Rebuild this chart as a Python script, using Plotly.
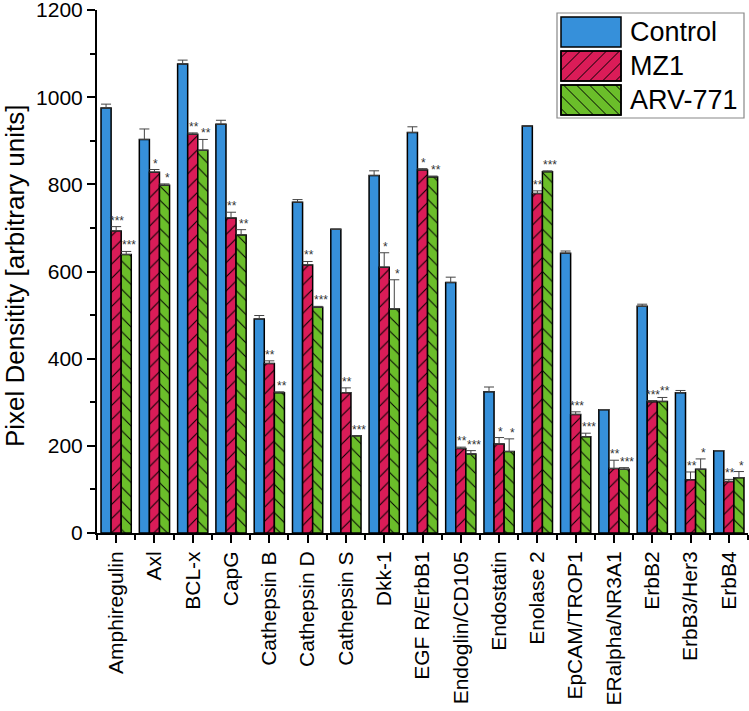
import numpy as np
import plotly.graph_objects as go

categories = ["Amphiregulin", "Axl", "BCL-x", "CapG", "Cathepsin B", "Cathepsin D",
              "Cathepsin S", "Dkk-1", "EGF R/ErbB1", "Endoglin/CD105", "Endostatin",
              "Enolase 2", "EpCAM/TROP1", "ERalpha/NR3A1", "ErbB2", "ErbB3/Her3", "ErbB4"]
control = [975, 903, 1076, 938, 491, 759, 697, 820, 919, 575, 324, 934, 642, 283, 520, 322, 189]
control_err = [9, 24, 9, 9, 8, 6, 0, 11, 13, 12, 11, 0, 5, 0, 5, 5, 0]
mz1 = [693, 828, 915, 723, 389, 615, 322, 610, 833, 194, 204, 779, 272, 148, 301, 122, 118]
mz1_err = [10, 6, 3, 13, 6, 8, 11, 33, 3, 3, 15, 6, 6, 19, 3, 18, 5]
arv = [639, 798, 878, 684, 322, 518, 223, 514, 817, 181, 187, 829, 221, 146, 302, 146, 127]
arv_err = [7, 3, 25, 12, 2, 2, 0, 67, 2, 8, 29, 2, 8, 4, 9, 24, 14]
mz1_sig = ["***", "*", "**", "**", "**", "**", "**", "*", "*", "**", "*", "**", "***", "**", "***", "**", "**"]
arv_sig = ["***", "*", "**", "**", "**", "***", "***", "*", "**", "***", "*", "***", "***", "***", "**", "*", "*"]
series_names = ["Control", "MZ1", "ARV-771"]
y_ticks = [0, 200, 400, 600, 800, 1000, 1200]

BLUE = "#3690DA"
RED = "#DA1C58"
GREEN = "#6BBE2A"
FONT = "Arial, Liberation Sans, sans-serif"

W, H = 749, 711
ML, MR, MT, MB = 97, 1, 10, 178
PW, PH = W - ML - MR, H - MT - MB

x = np.arange(len(categories))
BARGAP = 0.21
bw = (1 - BARGAP) / 3

fig = go.Figure()
specs = [
    (series_names[0], control, control_err, BLUE, ""),
    (series_names[1], mz1, mz1_err, RED, "/"),
    (series_names[2], arv, arv_err, GREEN, "\\"),
]
for name, vals, errs, col, pat in specs:
    marker = dict(color=col, line=dict(color="black", width=1.5))
    if pat:
        marker["pattern"] = dict(shape=pat, fgcolor="black", bgcolor=col,
                                 size=10, solidity=0.1, fillmode="replace")
    fig.add_trace(go.Bar(
        x=x, y=vals, name=name, marker=marker,
        error_y=dict(type="data", array=errs, arrayminus=[0] * len(errs),
                     symmetric=False, color="#444444", thickness=1, width=5),
        showlegend=False,
    ))

# significance stars
for vals, errs, sig, off, xs in [(mz1, mz1_err, mz1_sig, 0.0, 1), (arv, arv_err, arv_sig, bw, 3)]:
    for i, (v, e, s) in enumerate(zip(vals, errs, sig)):
        fig.add_annotation(x=i + off, y=v + e, text=s, showarrow=False,
                           xanchor="center", yanchor="bottom", xshift=xs, yshift=-3,
                           font=dict(family=FONT, size=12, color="#333333"))

# custom legend (pixel -> paper)
def px(xp):
    return (xp - ML) / PW

def py(yp):
    return (MT + PH - yp) / PH

fig.add_shape(type="rect", xref="paper", yref="paper",
              x0=px(557), x1=px(744), y0=py(118), y1=py(13),
              line=dict(color="#888888", width=1.2), fillcolor="white")

def hatch_path(x0, y0, x1, y1, direction, step):
    segs = []
    w, h = x1 - x0, y1 - y0
    for c in np.arange(step / 2, w + h, step):
        if direction == "/":
            xa = x0 + max(0, c - h); ya = y0 + min(c, h)
            xb = x0 + min(c, w); yb = y0 + max(0, c - w)
        else:
            xa = x0 + max(0, c - h); ya = y1 - min(c, h)
            xb = x0 + min(c, w); yb = y1 - max(0, c - w)
        segs.append(f"M{px(xa)},{py(ya)} L{px(xb)},{py(yb)}")
    return " ".join(segs)

sw = [(17, 47), (51, 81), (85, 115)]
for (name, _, _, col, pat), (ya, yb) in zip(specs, sw):
    fig.add_shape(type="rect", xref="paper", yref="paper",
                  x0=px(561), x1=px(621), y0=py(yb), y1=py(ya),
                  line=dict(color="black", width=1.5), fillcolor=col)
    if pat:
        fig.add_shape(type="path", xref="paper", yref="paper",
                      path=hatch_path(561, ya, 621, yb, pat, 13),
                      line=dict(color="black", width=1))
        fig.add_shape(type="rect", xref="paper", yref="paper",
                      x0=px(561), x1=px(621), y0=py(yb), y1=py(ya),
                      line=dict(color="black", width=1.5))
    fig.add_annotation(xref="paper", yref="paper", x=px(628), y=py((ya + yb) / 2),
                       text=name, showarrow=False, xanchor="left", yanchor="middle",
                       font=dict(family=FONT, size=27, color="black"))

# y-axis title
fig.add_annotation(xref="paper", yref="paper", x=px(15), y=py(276),
                   text="Pixel Densitity [arbitrary units]",
                   textangle=-90, showarrow=False, xanchor="center", yanchor="middle",
                   font=dict(family=FONT, size=26, color="black"))

fig.update_layout(
    width=W, height=H, margin=dict(l=ML, r=MR, t=MT, b=MB),
    barmode="group", bargap=BARGAP, bargroupgap=0,
    plot_bgcolor="white", paper_bgcolor="white",
    font=dict(family=FONT, color="black"),
    showlegend=False,
)
fig.update_xaxes(
    range=[-0.5, len(categories) - 0.5], tickmode="array", tickvals=x, ticktext=categories,
    tickangle=-90, tickfont=dict(size=21, family=FONT, color="black"),
    ticks="outside", ticklen=8, tickwidth=1.5, tickcolor="black",
    minor=dict(tickmode="array", tickvals=list(np.arange(len(categories) + 1) - 0.5),
               ticks="outside", ticklen=5, tickwidth=1.5, tickcolor="black"),
    showline=True, linecolor="black", linewidth=2, showgrid=False, zeroline=False,
    automargin=False, ticklabeloverflow="allow",
)
fig.update_yaxes(
    range=[0, 1200], tickmode="array", tickvals=y_ticks,
    tickfont=dict(size=21, family=FONT, color="black"),
    ticks="outside", ticklen=8, tickwidth=1.5, tickcolor="black",
    minor=dict(tickmode="array", tickvals=[100, 300, 500, 700, 900, 1100],
               ticks="outside", ticklen=5, tickwidth=1.5, tickcolor="black"),
    showline=True, linecolor="black", linewidth=2, showgrid=False, zeroline=False,
    automargin=False, ticklabeloverflow="allow",
)

fig.write_html("out.html", config={"displayModeBar": False},
               post_script="document.body.style.margin='0px';document.body.style.overflow='hidden';")
